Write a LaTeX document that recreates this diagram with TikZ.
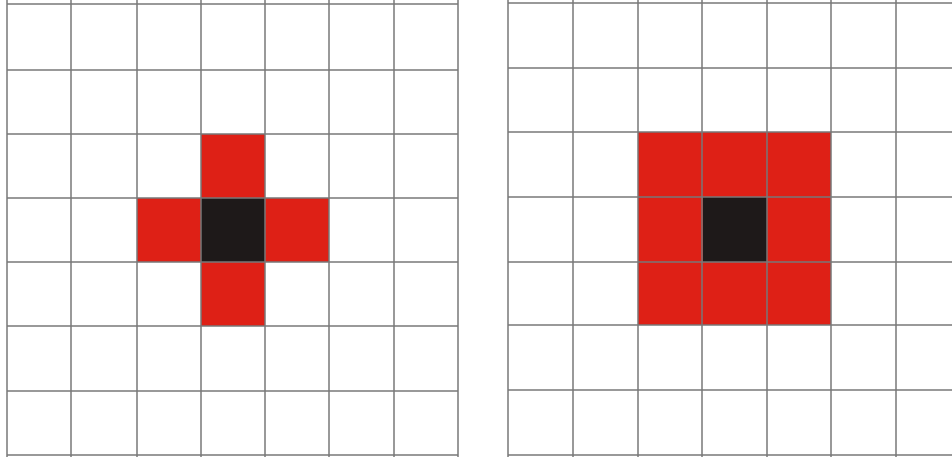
\documentclass[tikz,border=0pt]{standalone}
\definecolor{cellred}{RGB}{222,32,22}
\definecolor{cellblack}{RGB}{30,25,25}
\definecolor{gridgray}{RGB}{120,120,120}
\tikzset{
  gridline/.style={draw=gridgray, line width=1.2pt, opacity=0.75},
  redcell/.style={fill=cellred},
  blackcell/.style={fill=cellblack}
}
\begin{document}
\begin{tikzpicture}[x=1pt,y=-1pt]
\useasboundingbox (0,0) rectangle (952,457);
\fill[white] (0,0) rectangle (952,457);
% ---- left panel: cross ----
\fill[redcell] (201,134) rectangle (265,198);
\fill[redcell] (137,198) rectangle (201,262);
\fill[redcell] (265,198) rectangle (329,262);
\fill[redcell] (201,262) rectangle (265,326);
\fill[blackcell] (201,198) rectangle (265,262);
% ---- right panel: 3x3 block ----
\fill[redcell] (638,132) rectangle (831,325);
\fill[blackcell] (703,197) rectangle (767,262);
% ---- left grid ----
\foreach \x in {7,71,137,201,265,329,394,458}
  \draw[gridline] (\x,0) -- (\x,457);
\foreach \y in {4,70,134,198,262,326,391,455}
  \draw[gridline] (7,\y) -- (458,\y);
% ---- right grid ----
\foreach \x in {508,573,638,702,767,831,896}
  \draw[gridline] (\x,0) -- (\x,457);
\foreach \y in {3,68,132,197,262,325,390,455}
  \draw[gridline] (508,\y) -- (952,\y);
\end{tikzpicture}
\end{document}
